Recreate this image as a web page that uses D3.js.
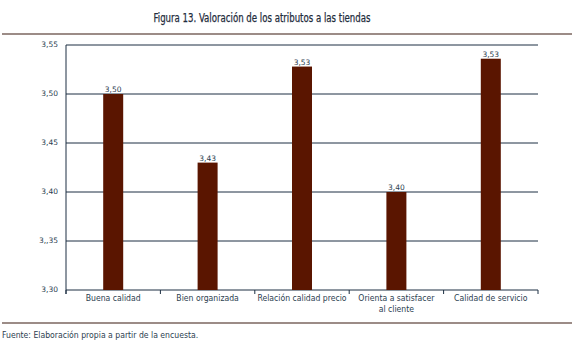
<!DOCTYPE html>
<html>
<head>
<meta charset="utf-8">
<script src="https://cdn.jsdelivr.net/npm/d3@7"></script>
<style>
  body { margin: 0; background: #fff; }
  svg { display: block; }
  .title { font-family: "DejaVu Sans Condensed", "DejaVu Sans", sans-serif; font-size: 12px; fill: #1f2d3d; stroke: #1f2d3d; stroke-width: 0.25px; }
  .tick-label { font-family: "DejaVu Sans", sans-serif; font-size: 7.5px; fill: #2c3e50; }
  .cat-label { font-family: "DejaVu Sans Condensed", "DejaVu Sans", sans-serif; font-size: 8.6px; fill: #2c3e50; }
  .val-label { font-family: "DejaVu Sans", sans-serif; font-size: 7.5px; fill: #2c3e50; }
  .source { font-family: "DejaVu Sans Condensed", "DejaVu Sans", sans-serif; font-size: 8.6px; fill: #2c3e50; }
</style>
</head>
<body>
<svg id="chart" width="575" height="344"></svg>
<script>
const categories = [
  ["Buena calidad"],
  ["Bien organizada"],
  ["Relación calidad precio"],
  ["Orienta a satisfacer", "al cliente"],
  ["Calidad de servicio"]
];
const values = [3.50, 3.43, 3.528, 3.40, 3.536];
const valueLabels = ["3,50", "3,43", "3,53", "3,40", "3,53"];
const yTicks = [3.30, 3.35, 3.40, 3.45, 3.50, 3.55];
const yTickLabels = ["3,30", "3,,35", "3,40", "3,45", "3,50", "3,55"];

const margin = { left: 66, right: 37, top: 45, bottom: 54 };
const svgW = 575, svgH = 344;
const width = svgW - margin.left - margin.right;
const height = svgH - margin.top - margin.bottom;

const svg = d3.select("#chart");

svg.append("text")
  .attr("class", "title")
  .attr("x", 262)
  .attr("y", 22)
  .attr("text-anchor", "middle")
  .attr("textLength", 217)
  .attr("lengthAdjust", "spacingAndGlyphs")
  .text("Figura 13. Valoración de los atributos a las tiendas");

svg.append("line")
  .attr("x1", 2).attr("x2", 572)
  .attr("y1", 34).attr("y2", 34)
  .attr("stroke", "#3a1a10").attr("stroke-width", 1.2);

svg.append("line")
  .attr("x1", 2).attr("x2", 572)
  .attr("y1", 323).attr("y2", 323)
  .attr("stroke", "#3a1a10").attr("stroke-width", 1.2);

svg.append("text")
  .attr("class", "source")
  .attr("x", 2)
  .attr("y", 338)
  .text("Fuente: Elaboración propia a partir de la encuesta.");

const g = svg.append("g")
  .attr("transform", `translate(${margin.left},${margin.top})`);

const x = d3.scaleBand()
  .domain(d3.range(categories.length))
  .range([0, width])
  .paddingInner(0)
  .paddingOuter(0);

const y = d3.scaleLinear()
  .domain([3.30, 3.55])
  .range([height, 0]);

// gridlines
g.selectAll(".grid")
  .data(yTicks)
  .join("line")
  .attr("class", "grid")
  .attr("x1", 0).attr("x2", width)
  .attr("y1", d => y(d)).attr("y2", d => y(d))
  .attr("stroke", "#1c2f42").attr("stroke-width", 1);

// y axis line
g.append("line")
  .attr("x1", 0).attr("x2", 0)
  .attr("y1", 0).attr("y2", height + 4)
  .attr("stroke", "#1c2f42").attr("stroke-width", 1);

// y tick labels
g.selectAll(".tick-label")
  .data(yTicks)
  .join("text")
  .attr("class", "tick-label")
  .attr("x", -8)
  .attr("y", d => y(d) + 2)
  .attr("text-anchor", "end")
  .text((d, i) => yTickLabels[i]);

// x tick marks between categories
const xTicks = d3.range(categories.length + 1).map(i => i * x.bandwidth());
g.selectAll(".xtick")
  .data(xTicks)
  .join("line")
  .attr("class", "xtick")
  .attr("x1", d => d).attr("x2", d => d)
  .attr("y1", height).attr("y2", height + 4)
  .attr("stroke", "#1c2f42").attr("stroke-width", 1);

// bars
const barW = 20;
g.selectAll(".bar")
  .data(values)
  .join("rect")
  .attr("class", "bar")
  .attr("x", (d, i) => x(i) + x.bandwidth() / 2 - barW / 2)
  .attr("y", d => y(d))
  .attr("width", barW)
  .attr("height", d => height - y(d))
  .attr("fill", "#5a1500");

// value labels
g.selectAll(".val-label")
  .data(values)
  .join("text")
  .attr("class", "val-label")
  .attr("x", (d, i) => x(i) + x.bandwidth() / 2)
  .attr("y", d => y(d) - 2)
  .attr("text-anchor", "middle")
  .text((d, i) => valueLabels[i]);

// category labels
const cats = g.selectAll(".cat-label")
  .data(categories)
  .join("text")
  .attr("class", "cat-label")
  .attr("text-anchor", "middle")
  .attr("x", (d, i) => x(i) + x.bandwidth() / 2)
  .attr("y", height + 11);

cats.selectAll("tspan")
  .data(d => d)
  .join("tspan")
  .attr("x", function() { return d3.select(this.parentNode).attr("x"); })
  .attr("dy", (d, i) => i === 0 ? 0 : 11)
  .text(d => d);
</script>
</body>
</html>
